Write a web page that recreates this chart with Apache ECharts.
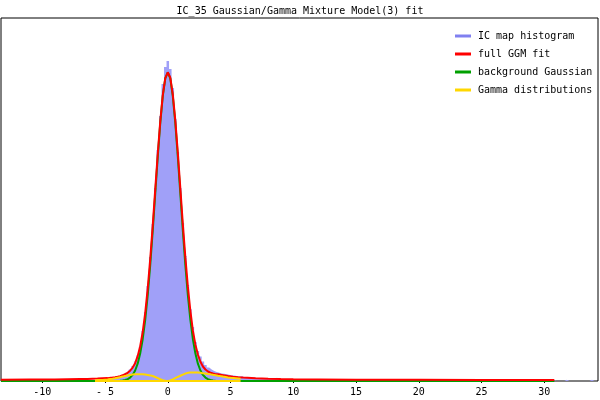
<!DOCTYPE html>
<html><head><meta charset="utf-8">
<script src="https://cdn.jsdelivr.net/npm/echarts@6/dist/echarts.min.js"></script>
<style>html,body{margin:0;padding:0;background:#fff}#c{width:600px;height:400px}</style>
</head><body><div id="c"></div>
<script>
const titleText = 'IC_35 Gaussian/Gamma Mixture Model(3) fit';
const legendNames = ['IC map histogram', 'full GGM fit', 'background Gaussian', 'Gamma distributions'];
const xTickValues = [-10, -5, 0, 5, 10, 15, 20, 25, 30];
const xTickLabels = ['-10', '- 5', '0', '5', '10', '15', '20', '25', '30'];

// histogram bins (centres) and heights
const histX = [-5.6,-5.4,-5.2,-5.0,-4.8,-4.6,-4.4,-4.2,-4.0,-3.8,-3.6,-3.4,-3.2,-3.0,-2.8,-2.6,-2.4,-2.2,-2.0,-1.8,-1.6,-1.4,-1.2,-1.0,-0.8,-0.6,-0.4,-0.2,
  0,0.2,0.4,0.6,0.8,1.0,1.2,1.4,1.6,1.8,2.0,2.2,2.4,2.6,2.8,3.0,3.2,3.4,3.6,3.8,4.0,4.2,4.4,4.6,4.8,5.0,5.2,5.4,5.6,5.8,
  6.0,6.2,6.4,6.6,6.8,7.0,7.2,7.4,7.6,7.8,8.0,8.2,8.4,8.6,8.8,9.0,9.2,9.4,9.6,9.8,10.0,
  11,12,14,17,20,24,28,30.6,31.0,31.6,31.8,32.0,33.6,33.8,34.0];
const histY = [0,0.0019,0.0013,0.0025,0.0031,0.0025,0.0044,0.0050,0.0056,0.0069,0.0081,0.0100,0.0113,0.0144,0.0188,0.0244,0.0319,0.0438,0.0625,0.0863,0.1188,0.1550,0.1963,0.2413,0.2888,0.3313,0.3713,0.3925,
  0.4000,0.3900,0.3663,0.3275,0.2863,0.2413,0.1975,0.1563,0.1200,0.0900,0.0675,0.0488,0.0375,0.0306,0.0244,0.0200,0.0169,0.0144,0.0125,0.0113,0.0103,0.0095,0.0090,0.0083,0.0078,0.0070,0.0068,0.0061,0.0060,0.0058,
  0.0050,0.0048,0.0049,0.0046,0.0044,0.0035,0.0033,0.0030,0.0034,0.0028,0.0030,0.0026,0.0028,0.0040,0.0025,0.0020,0.0019,0.0016,0.0018,0.0015,0.0014,
  0.0011,0.0010,0.0009,0.0008,0.0006,0.0006,0.0005,0.0005,0,0,0.0015,0,0,0.0015,0];

// fitted curves sampled positions
const fitX = [-13.3,-11,-9,-8,-7,-6.4,-6,-5.6,-5.2,-4.8,-4.4,-4.2,-4.0,-3.8,-3.6,-3.4,-3.2,-3.0,-2.8,-2.6,-2.4,-2.2,-2.0,-1.8,-1.6,-1.4,-1.2,-1.0,-0.8,-0.6,-0.4,-0.2,
  0,0.2,0.4,0.6,0.8,1.0,1.2,1.4,1.6,1.8,2.0,2.2,2.4,2.6,2.8,3.0,3.2,3.4,3.6,3.8,4.0,4.4,4.8,5.2,5.6,6,7,8,9,10,12,15,20,25,30.8];
const fullFit = [0.0015,0.0018,0.0020,0.0023,0.0025,0.0026,0.0028,0.0030,0.0033,0.0036,0.0043,0.0048,0.0054,0.0061,0.0071,0.0085,0.0103,0.0129,0.0168,0.0223,0.0310,0.0435,0.0611,0.0849,0.1155,0.1524,0.1943,0.2395,0.2838,0.3245,0.3573,0.3785,
  0.3859,0.3791,0.3581,0.3258,0.2851,0.2408,0.1958,0.1545,0.1179,0.0875,0.0629,0.0454,0.0330,0.0241,0.0181,0.0144,0.0119,0.0104,0.0093,0.0084,0.0083,0.0073,0.0063,0.0054,0.0048,0.0043,0.0034,0.0028,0.0024,0.0021,0.0019,0.0016,0.0015,0.0014,0.0013];
const backgroundGauss = [0,0,0,0,0,0,0,0,0,0,0,0,0.0001,0.0003,0.0006,0.0012,0.0023,0.0043,0.0076,0.0131,0.0216,0.0343,0.0522,0.0764,0.1073,0.1448,0.1879,0.2341,0.2802,0.3223,0.3562,0.3783,
  0.3859,0.3783,0.3562,0.3223,0.2802,0.2341,0.1879,0.1448,0.1073,0.0764,0.0522,0.0343,0.0216,0.0131,0.0076,0.0043,0.0023,0.0012,0.0006,0.0003,0.0001,0,0,0,0,0,0,0,0,0,0,0,0,0,0];

// gamma components
const gammaX = [-5.8,-5.6,-5.4,-5.2,-5.0,-4.8,-4.6,-4.4,-4.2,-4.0,-3.8,-3.6,-3.4,-3.2,-3.0,-2.8,-2.6,-2.4,-2.2,-2.0,-1.8,-1.6,-1.4,-1.2,-1.0,-0.8,-0.6,-0.4,-0.2,
  0,0.2,0.4,0.6,0.8,1.0,1.2,1.4,1.6,1.8,2.0,2.2,2.4,2.6,2.8,3.0,3.2,3.4,3.6,3.8,4.0,4.2,4.4,4.6,4.8,5.0,5.2,5.4,5.6,5.8];
const gammaNeg = [0.0010,0.0011,0.0013,0.0014,0.0017,0.0020,0.0024,0.0028,0.0034,0.0041,0.0048,0.0055,0.0063,0.0070,0.0076,0.0080,0.0083,0.0084,0.0084,0.0083,0.0080,0.0076,0.0070,0.0062,0.0050,0.0036,0.0022,0.0011,0.0003,
  0,0,0,0,0,0,0,0,0,0,0,0,0,0,0,0,0,0,0,0,0,0,0,0,0,0,0,0,0,0];
const gammaPos = [0,0,0,0,0,0,0,0,0,0,0,0,0,0,0,0,0,0,0,0,0,0,0,0,0,0,0,0,0,
  0,0.0008,0.0021,0.0037,0.0052,0.0066,0.0080,0.0093,0.0102,0.0105,0.0106,0.0106,0.0105,0.0102,0.0098,0.0094,0.0088,0.0083,0.0077,0.0072,0.0066,0.0061,0.0055,0.0050,0.0045,0.0041,0.0038,0.0035,0.0032,0.0029];

const pair = (xs, ys) => xs.map((x, i) => [x, ys[i]]);
const FONT = 'DejaVu Sans Mono';
const colors = { hist: '#8080f0', histFill: '#a0a0f8', full: '#ff0000', bg: '#00a000', gamma: '#ffd700' };

const chart = echarts.init(document.getElementById('c'), null, { renderer: 'canvas' });
chart.setOption({
  animation: false,
  backgroundColor: '#fff',
  title: { text: titleText, left: 'center', top: 6, padding: 0,
    textStyle: { fontFamily: FONT, fontSize: 10, fontWeight: 'normal', color: '#000' } },
  legend: {
    orient: 'vertical', left: 455, top: 30, padding: 0, itemGap: 6, icon: 'rect', itemWidth: 16, itemHeight: 3,
    textStyle: { fontFamily: FONT, fontSize: 10, color: '#000', lineHeight: 12, padding: [0, 0, 0, 2] },
    data: [
      { name: legendNames[0], itemStyle: { color: colors.hist } },
      { name: legendNames[1], itemStyle: { color: colors.full } },
      { name: legendNames[2], itemStyle: { color: colors.bg } },
      { name: legendNames[3], itemStyle: { color: colors.gamma } }
    ],
    selectedMode: false
  },
  grid: { left: 1, right: 2, top: 18, bottom: 19, show: true, borderColor: '#000', borderWidth: 1, backgroundColor: 'transparent' },
  xAxis: {
    type: 'value', min: -13.29, max: 34.28,
    axisLine: { show: false },
    splitLine: { show: false },
    axisTick: { show: true, length: 2, lineStyle: { color: '#000' }, customValues: xTickValues },
    axisLabel: { customValues: xTickValues, margin: 6, fontFamily: FONT, fontSize: 10, color: '#000',
      formatter: v => xTickLabels[xTickValues.indexOf(v)] }
  },
  yAxis: { type: 'value', min: 0, max: 0.45375, show: false, splitLine: { show: false } },
  series: [
    { name: legendNames[0], type: 'line', step: 'middle', data: pair(histX, histY), symbol: 'none',
      itemStyle: { color: colors.hist }, lineStyle: { width: 0 }, areaStyle: { color: colors.histFill, opacity: 1 }, z: 1, silent: true },
    { name: legendNames[2], type: 'line', data: pair(fitX, backgroundGauss), symbol: 'none',
      itemStyle: { color: colors.bg }, lineStyle: { color: colors.bg, width: 2 }, z: 2, silent: true },
    { name: legendNames[1], type: 'line', data: pair(fitX, fullFit), symbol: 'none',
      itemStyle: { color: colors.full }, lineStyle: { color: colors.full, width: 2 }, z: 3, silent: true },
    { name: legendNames[3], type: 'line', data: pair(gammaX, gammaNeg), symbol: 'none',
      itemStyle: { color: colors.gamma }, lineStyle: { color: colors.gamma, width: 2 }, z: 4, silent: true },
    { name: legendNames[3], type: 'line', data: pair(gammaX, gammaPos), symbol: 'none',
      itemStyle: { color: colors.gamma }, lineStyle: { color: colors.gamma, width: 2 }, z: 4, silent: true }
  ]
});
</script></body></html>
